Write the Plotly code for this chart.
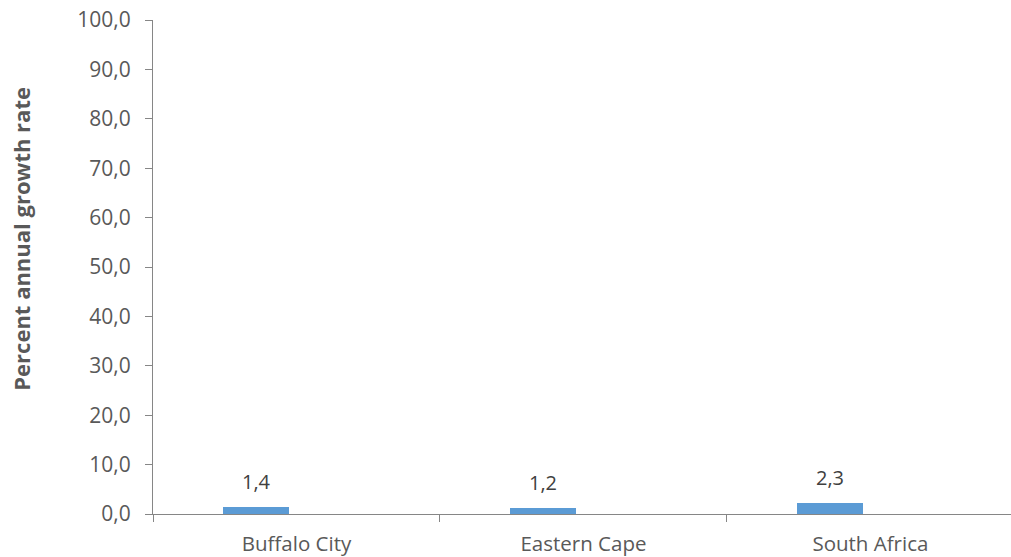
import plotly.graph_objects as go

categories = ["Buffalo City", "Eastern Cape", "South Africa"]
growth = [1.4, 1.2, 2.3]
labels = ["1,4", "1,2", "2,3"]
y_ticks = [0, 10, 20, 30, 40, 50, 60, 70, 80, 90, 100]
y_tick_text = ["0,0", "10,0", "20,0", "30,0", "40,0", "50,0", "60,0", "70,0", "80,0", "90,0", "100,0"]
y_title = "Percent annual growth rate"

BAR_W = 0.23
BAR_OFF = -0.255
FONT = "Open Sans"

fig = go.Figure()
fig.add_trace(go.Bar(
    x=categories, y=growth,
    width=[BAR_W] * len(categories), offset=BAR_OFF,
    marker=dict(color="#5B9BD5", line=dict(width=0)),
    showlegend=False, hoverinfo="skip",
))

for i, (v, t) in enumerate(zip(growth, labels)):
    fig.add_annotation(
        x=i + BAR_OFF + BAR_W / 2, y=v, xref="x", yref="y",
        text=t, showarrow=False, yanchor="bottom", yshift=10,
        font=dict(family=FONT, size=20, color="#404040"),
    )

fig.add_annotation(
    x=-0.154, y=0.557, xref="paper", yref="paper",
    xanchor="center", yanchor="middle", textangle=-90,
    text="<b>" + y_title + "</b>", showarrow=False,
    font=dict(family=FONT, size=22, color="#595959"),
)

fig.update_layout(
    width=1011, height=557,
    margin=dict(l=153, r=0, t=20, b=43),
    paper_bgcolor="white", plot_bgcolor="white",
    font=dict(family=FONT, color="#595959"),
    bargap=0,
    xaxis=dict(
        type="category", range=[-0.5, 2.49],
        tickson="boundaries", ticks="outside", ticklen=7, tickcolor="#868686",
        showline=True, linecolor="#868686", linewidth=1,
        showgrid=False, zeroline=False,
        tickfont=dict(family=FONT, size=20.5, color="#595959"),
        ticklabelstandoff=11,
    ),
    yaxis=dict(
        range=[0, 100], tickvals=y_ticks, ticktext=y_tick_text,
        ticks="outside", ticklen=7, tickcolor="#868686",
        showline=True, linecolor="#868686", linewidth=1,
        showgrid=False, zeroline=False,
        tickfont=dict(family=FONT, size=21, color="#595959"),
        ticklabelstandoff=10,
    ),
)

fig.write_html("out.html")
